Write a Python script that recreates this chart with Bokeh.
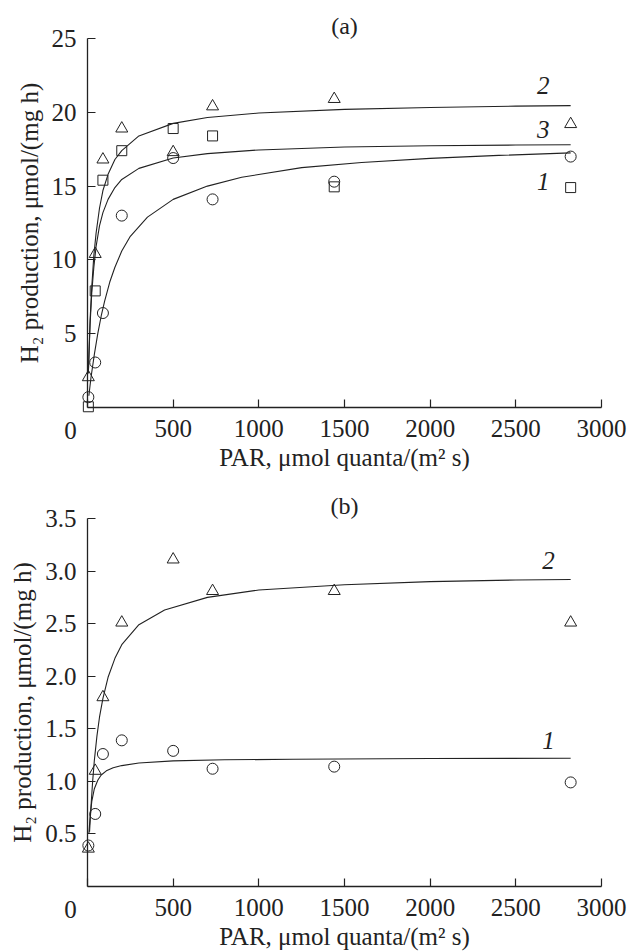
from bokeh.plotting import figure
from bokeh.layouts import column
from bokeh.models import Range1d, FixedTicker, Label
from bokeh.core.properties import value
from bokeh.embed import file_html
from bokeh.resources import INLINE

FONT = "Liberation Serif"
INK = "#222222"
FS = "25px"

# ---------------- data ----------------
par = [5, 45, 90, 200, 500, 730, 1440, 2820]

# panel (a) measured points
a1 = [0.7, 3.05, 6.4, 13.0, 16.9, 14.1, 15.3, 17.0]      # circles, curve 1
a2 = [2.05, 10.4, 16.8, 18.9, 17.3, 20.4, 20.9, 19.2]    # triangles, curve 2
a3 = [0.05, 7.9, 15.4, 17.4, 18.9, 18.4, 14.95, 14.9]    # squares, curve 3

# panel (a) fitted curves
a1_fit_x = [8, 20, 40, 60, 80, 100, 130, 160, 200, 250, 350, 500, 700, 900, 1250, 1600, 2000, 2400, 2820]
a1_fit_y = [0.8, 2.0, 3.6, 5.0, 6.2, 7.2, 8.5, 9.5, 10.6, 11.6, 12.9, 14.1, 15.0, 15.6, 16.25, 16.6, 16.88, 17.08, 17.25]
a2_fit_x = [5, 15, 25, 37, 50, 70, 90, 120, 160, 200, 300, 500, 700, 1000, 1500, 2000, 2500, 2820]
a2_fit_y = [2.3, 5.9, 8.2, 10.3, 11.8, 13.5, 14.7, 15.8, 16.8, 17.4, 18.4, 19.25, 19.65, 19.95, 20.2, 20.33, 20.42, 20.45]
a3_fit_x = [5, 15, 25, 37, 50, 70, 90, 120, 160, 200, 300, 500, 700, 1000, 1500, 2000, 2500, 2820]
a3_fit_y = [2.4, 5.6, 7.8, 9.5, 10.9, 12.3, 13.2, 14.1, 14.9, 15.45, 16.2, 16.9, 17.2, 17.45, 17.65, 17.73, 17.78, 17.8]

# panel (b) measured points
b1 = [0.39, 0.69, 1.26, 1.39, 1.29, 1.12, 1.14, 0.99]    # circles, curve 1
b2 = [0.36, 1.10, 1.80, 2.51, 3.11, 2.81, 2.81, 2.51]    # triangles, curve 2

# panel (b) fitted curves
b1_fit_x = [8, 15, 25, 40, 60, 80, 110, 150, 200, 300, 500, 800, 1200, 2000, 2820]
b1_fit_y = [0.5, 0.66, 0.81, 0.93, 1.01, 1.06, 1.1, 1.13, 1.15, 1.175, 1.195, 1.205, 1.21, 1.217, 1.22]
b2_fit_x = [12, 20, 30, 40, 55, 70, 90, 120, 160, 200, 300, 450, 700, 1000, 1500, 2000, 2500, 2820]
b2_fit_y = [0.52, 0.75, 1.0, 1.2, 1.43, 1.61, 1.79, 1.99, 2.17, 2.3, 2.49, 2.63, 2.75, 2.82, 2.87, 2.9, 2.915, 2.92]

x_ticks = [0, 500, 1000, 1500, 2000, 2500, 3000]
a_yticks = [5, 10, 15, 20, 25]
b_yticks = [0.5, 1.0, 1.5, 2.0, 2.5, 3.0, 3.5]

X_LABEL = "PAR, μmol quanta/(m² s)"
Y_LABEL = "H₂ production, μmol/(mg h)"


def make_panel(title, ymax, yticks, height, top_border, bottom_border, yfmt=None):
    p = figure(width=632, height=height,
               x_range=Range1d(0, 3000), y_range=Range1d(0, ymax),
               output_backend="svg", toolbar_location=None, title=title,
               min_border_left=87, min_border_right=31,
               min_border_top=top_border, min_border_bottom=bottom_border)
    p.outline_line_color = None
    p.grid.visible = False
    p.background_fill_color = "white"
    p.border_fill_color = "white"

    p.title.align = "center"
    p.title.text_font = FONT
    p.title.text_font_size = "24px"
    p.title.text_font_style = "normal"
    p.title.text_color = INK
    p.title.standoff = 0
    p.title.offset = 0

    for ax in (p.xaxis[0], p.yaxis[0]):
        ax.axis_line_color = INK
        ax.axis_line_width = 1.3
        ax.major_tick_line_color = INK
        ax.major_tick_line_width = 1.2
        ax.major_tick_in = 8
        ax.major_tick_out = 0
        ax.minor_tick_line_color = None
        ax.major_label_text_font = FONT
        ax.major_label_text_font_size = FS
        ax.major_label_text_color = INK
        ax.axis_label_text_font = FONT
        ax.axis_label_text_font_size = FS
        ax.axis_label_text_font_style = "normal"
        ax.axis_label_text_color = INK

    p.xaxis.ticker = FixedTicker(ticks=x_ticks)
    p.xaxis.major_label_overrides = {0: ""}
    p.xaxis.major_label_standoff = 12
    p.xaxis.axis_label = X_LABEL
    p.xaxis.axis_label_standoff = 4

    p.yaxis.ticker = FixedTicker(ticks=yticks)
    if yfmt:
        p.yaxis.major_label_overrides = {t: yfmt.format(t) for t in yticks}
    p.yaxis.major_label_standoff = 11
    p.yaxis.axis_label = Y_LABEL
    p.yaxis.axis_label_standoff = 6

    # the origin label "0" sits left of the axis corner, as in the original
    p.text(x=[x_ticks[0]], y=[0], text=["0"], x_offset=-17, y_offset=23,
           text_align="center", text_baseline="middle",
           text_font=value(FONT), text_font_size=FS, text_color=INK, level="overlay")
    return p


def curve_label(p, x, y, txt):
    p.add_layout(Label(x=x, y=y, text=txt, text_align="center", text_baseline="middle",
                       text_font=FONT, text_font_size=FS, text_font_style="italic",
                       text_color=INK))


MK = dict(fill_color=None, line_color=INK, line_width=1, level="overlay")

# ---------------- panel (a) ----------------
pa = make_panel("(a)", 25, a_yticks, 474, 38, 67)
pa.line(a1_fit_x, a1_fit_y, line_color=INK, line_width=1.1)
pa.line(a2_fit_x, a2_fit_y, line_color=INK, line_width=1.1)
pa.line(a3_fit_x, a3_fit_y, line_color=INK, line_width=1.1)
pa.scatter(par, a1, marker="circle", size=11, **MK)
pa.scatter(par, a2, marker="triangle", size=12, **MK)
pa.scatter(par, a3, marker="square", size=10, **MK)
curve_label(pa, 2660, 21.8, "2")
curve_label(pa, 2660, 18.85, "3")
curve_label(pa, 2660, 15.3, "1")

# ---------------- panel (b) ----------------
pb = make_panel("(b)", 3.5, b_yticks, 478, 44, 64, yfmt="{:.1f}")
pb.line(b1_fit_x, b1_fit_y, line_color=INK, line_width=1.1)
pb.line(b2_fit_x, b2_fit_y, line_color=INK, line_width=1.1)
pb.scatter(par, b1, marker="circle", size=11, **MK)
pb.scatter(par, b2, marker="triangle", size=12, **MK)
curve_label(pb, 2690, 3.1, "2")
curve_label(pb, 2690, 1.39, "1")

layout = column(pa, pb, spacing=0)
open("out.html", "w").write(file_html(layout, INLINE))
